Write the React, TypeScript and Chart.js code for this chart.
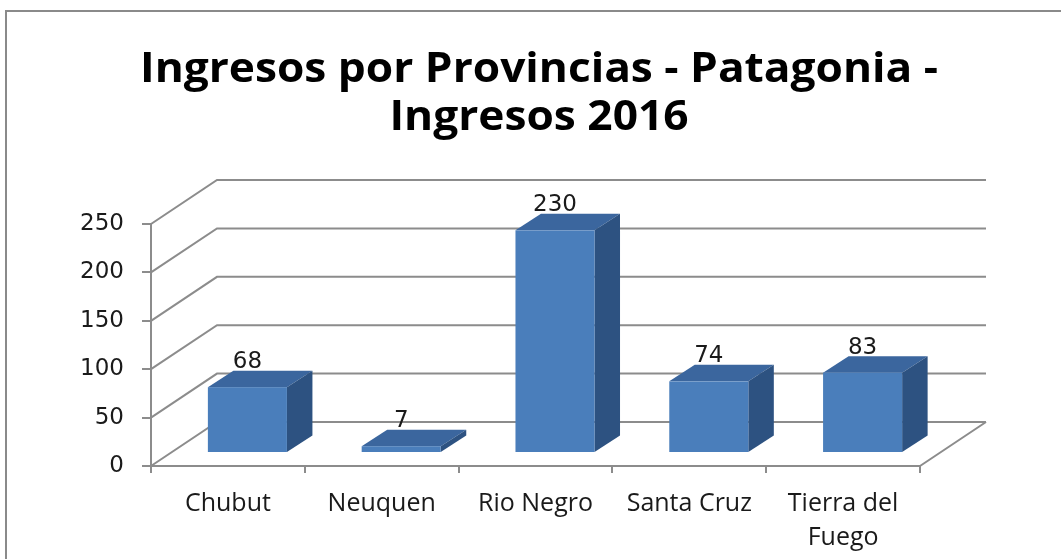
import React, { useEffect, useRef } from "react";
import { Chart, registerables } from "chart.js";

Chart.register(...registerables);

const titleLines = ["Ingresos por Provincias - Patagonia -", "Ingresos 2016"];
const categories: (string | string[])[] = ["Chubut", "Neuquen", "Rio Negro", "Santa Cruz", ["Tierra del", "Fuego"]];
const ingresos = [68, 7, 230, 74, 83];
const yMin = 0;
const yMax = 250;
const yStep = 50;

const GRID = "#8c8c8c";
const FRONT = "#4a7ebb";
const TOP = "#3b669e";
const SIDE = "#2d5281";

// 3D geometry (depth offsets)
const WALL_DX = 66;
const WALL_DY = -44;
const BAR_OFF_X = 19.5;
const BAR_OFF_Y = -13;
const BAR_DX = 25.5;
const BAR_DY = -16.5;

const threeD = {
  id: "threeD",
  beforeDatasetsDraw(chart: any) {
    const { ctx, chartArea, scales } = chart;
    const ys = scales.y;
    ctx.save();
    ctx.strokeStyle = GRID;
    ctx.lineWidth = 2;
    for (let v = yMin; v <= yMax; v += yStep) {
      const py = ys.getPixelForValue(v);
      ctx.beginPath();
      ctx.moveTo(chartArea.left, py);
      ctx.lineTo(chartArea.left + WALL_DX, py + WALL_DY);
      ctx.lineTo(chartArea.right + WALL_DX, py + WALL_DY);
      ctx.stroke();
    }
    const pb = ys.getPixelForValue(0);
    ctx.beginPath();
    ctx.moveTo(chartArea.right, pb);
    ctx.lineTo(chartArea.right + WALL_DX, pb + WALL_DY);
    ctx.stroke();
    ctx.restore();
  },
  afterDatasetsDraw(chart: any) {
    const { ctx } = chart;
    const meta = chart.getDatasetMeta(0);
    ctx.save();
    meta.data.forEach((el: any, i: number) => {
      const { x, y, base, width } = el.getProps(["x", "y", "base", "width"], true);
      const x0 = x - width / 2 + BAR_OFF_X;
      const x1 = x + width / 2 + BAR_OFF_X;
      const top = y + BAR_OFF_Y;
      const bot = base + BAR_OFF_Y;
      ctx.fillStyle = TOP;
      ctx.beginPath();
      ctx.moveTo(x0, top);
      ctx.lineTo(x1, top);
      ctx.lineTo(x1 + BAR_DX, top + BAR_DY);
      ctx.lineTo(x0 + BAR_DX, top + BAR_DY);
      ctx.closePath();
      ctx.fill();
      ctx.fillStyle = SIDE;
      ctx.beginPath();
      ctx.moveTo(x1, top);
      ctx.lineTo(x1 + BAR_DX, top + BAR_DY);
      ctx.lineTo(x1 + BAR_DX, bot + BAR_DY);
      ctx.lineTo(x1, bot);
      ctx.closePath();
      ctx.fill();
      ctx.fillStyle = FRONT;
      ctx.fillRect(x0, top, x1 - x0, bot - top);
      ctx.fillStyle = "#1a1a1a";
      ctx.font = "23px 'DejaVu Sans'";
      ctx.textAlign = "center";
      ctx.textBaseline = "middle";
      ctx.fillText(String(ingresos[i]), x + BAR_OFF_X, top - 25);
    });
    ctx.restore();
  },
  afterDraw(chart: any) {
    const { ctx } = chart;
    ctx.save();
    ctx.strokeStyle = "#8a8a8a";
    ctx.lineWidth = 2;
    ctx.beginPath();
    ctx.moveTo(6, 559);
    ctx.lineTo(6, 11);
    ctx.lineTo(1061, 11);
    ctx.stroke();
    ctx.fillStyle = "#000";
    ctx.font = "bold 42px 'Open Sans'";
    ctx.textAlign = "center";
    ctx.textBaseline = "alphabetic";
    const targetW = 798;
    const w = ctx.measureText(titleLines[0]).width;
    const sx = targetW / w;
    ctx.translate(539, 0);
    ctx.scale(sx, 1);
    ctx.fillText(titleLines[0], 0, 82);
    ctx.fillText(titleLines[1], 0, 130);
    ctx.restore();
  },
};

export default function App() {
  const ref = useRef<HTMLCanvasElement | null>(null);
  useEffect(() => {
    if (!ref.current) return;
    const chart = new Chart(ref.current, {
      type: "bar",
      data: {
        labels: categories as any,
        datasets: [
          {
            data: ingresos,
            backgroundColor: "rgba(0,0,0,0)",
            borderWidth: 0,
            barPercentage: 0.514,
            categoryPercentage: 1,
          },
        ],
      },
      options: {
        responsive: false,
        animation: false,
        events: [],
        layout: { padding: { top: 224, right: 141, bottom: 0, left: 0 } },
        plugins: { legend: { display: false }, tooltip: { enabled: false }, title: { display: false } },
        scales: {
          x: {
            grid: { offset: true, drawOnChartArea: false, drawTicks: true, tickLength: 7, color: GRID, lineWidth: 2 },
            border: { display: true, color: GRID, width: 2 },
            ticks: { font: { family: "Open Sans", size: 25, lineHeight: 1.35 }, color: "#1a1a1a", padding: 14, maxRotation: 0, autoSkip: false },
            afterFit: (s: any) => { s.height = 93; },
          },
          y: {
            min: yMin,
            max: yMax,
            ticks: { stepSize: yStep, font: { family: "DejaVu Sans", size: 23 }, color: "#1a1a1a", padding: 18 },
            grid: { drawOnChartArea: false, drawTicks: true, tickLength: 9, color: GRID, lineWidth: 2 },
            border: { display: true, color: GRID, width: 2 },
            afterFit: (s: any) => { s.width = 151; },
          },
        },
      },
      plugins: [threeD],
    });
    return () => chart.destroy();
  }, []);
  return (
    <div style={{ position: "fixed", left: 0, top: 0, width: 1061, height: 559, background: "#fff" }}>
      <canvas ref={ref} width={1061} height={559} style={{ display: "block", width: 1061, height: 559 }} />
    </div>
  );
}
